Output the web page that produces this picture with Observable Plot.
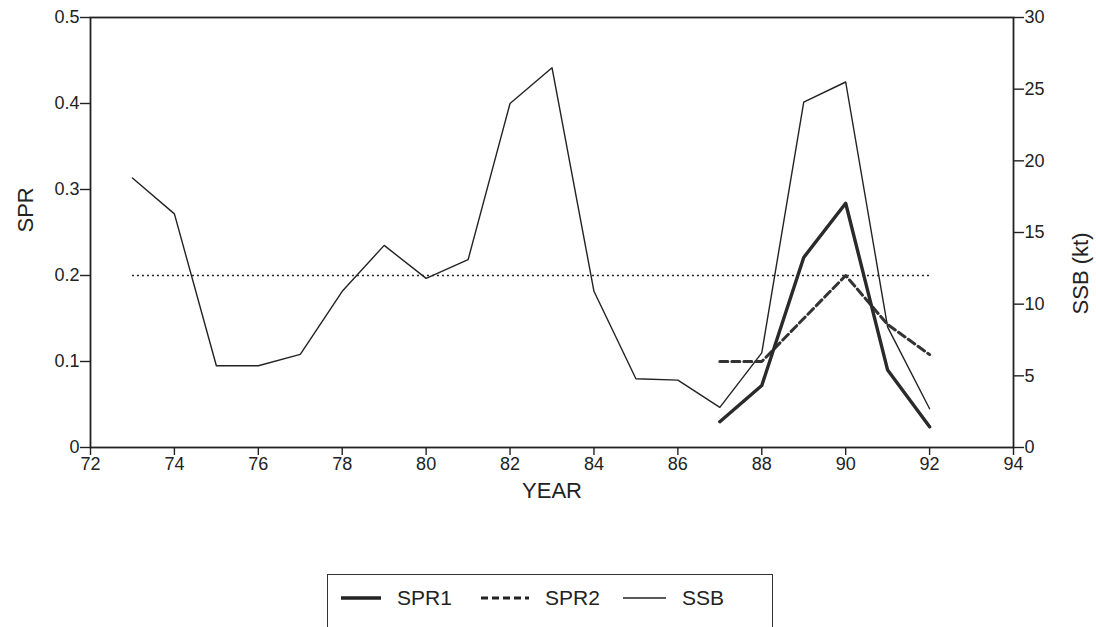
<!DOCTYPE html>
<html>
<head>
<meta charset="utf-8">
<script src="https://cdn.jsdelivr.net/npm/d3@7"></script>
<script src="https://cdn.jsdelivr.net/npm/@observablehq/plot@0.6"></script>
<style>
  html, body { margin: 0; padding: 0; background: #fff; }
  #wrap { position: relative; width: 1096px; height: 627px; overflow: hidden; }
  #legend {
    position: absolute; left: 327px; top: 574px; width: 446px; height: 60px;
    border: 1.5px solid #333; box-sizing: border-box; background: #fff;
    font-family: "Liberation Sans", Arial, sans-serif; font-size: 21px; color: #222;
  }
  #legend .item { position: absolute; top: 11px; display: flex; align-items: center; }
  #legend svg { display: block; }
</style>
</head>
<body>
<div id="wrap"><div id="chart"></div><div id="legend"></div></div>
<script>
// Spawning stock biomass (kt, right axis) and spawning-per-recruit (left axis)
const years = [73, 74, 75, 76, 77, 78, 79, 80, 81, 82, 83, 84, 85, 86, 87, 88, 89, 90, 91, 92];
const ssb   = [18.8, 16.3, 5.7, 5.7, 6.5, 10.9, 14.1, 11.8, 13.1, 24.0, 26.5, 10.9, 4.8, 4.7, 2.8, 6.6, 24.1, 25.5, 8.4, 2.7];

const sprYears = [87, 88, 89, 90, 91, 92];
const spr1 = [0.030, 0.072, 0.221, 0.284, 0.090, 0.024];
const spr2 = [0.100, 0.100, 0.150, 0.200, 0.143, 0.108];

// Reference level of SPR drawn across the whole series
const refSpr = 0.2;
const refYears = [73, 92];

const xTicks = d3.range(72, 95, 2);
const sprTicks = [0, 0.1, 0.2, 0.3, 0.4, 0.5];
const ssbTicks = [0, 5, 10, 15, 20, 25, 30];
const ssbMax = 30, sprMax = 0.5;
const toSpr = v => v * sprMax / ssbMax; // SSB plotted on the SPR scale

const ssbData = years.map((y, i) => ({year: y, v: toSpr(ssb[i])}));
const spr1Data = sprYears.map((y, i) => ({year: y, v: spr1[i]}));
const spr2Data = sprYears.map((y, i) => ({year: y, v: spr2[i]}));

const ink = "#222";

const plot = Plot.plot({
  width: 1096,
  height: 520,
  marginLeft: 90,
  marginRight: 83,
  marginTop: 17,
  marginBottom: 73,
  style: {fontFamily: "'Liberation Sans', Arial, sans-serif", fontSize: "18px", color: ink, background: "#fff"},
  x: {domain: [72, 94]},
  y: {domain: [0, sprMax]},
  marks: [
    Plot.frame({stroke: ink, strokeWidth: 1.8}),
    Plot.axisX({ticks: xTicks, tickSize: 8, tickPadding: 2, fontSize: 18, strokeWidth: 1.4, tickFormat: d => String(d), label: null}),
    Plot.axisY({anchor: "left", ticks: sprTicks, tickSize: 10, tickPadding: 1, fontSize: 18, strokeWidth: 1.4,
      tickFormat: d => d === 0 ? "0" : d.toFixed(1), label: null}),
    Plot.axisY({anchor: "right", ticks: ssbTicks.map(toSpr), tickSize: 10, tickPadding: 1, fontSize: 18, strokeWidth: 1.4,
      tickFormat: d => String(Math.round(d * ssbMax / sprMax)), label: null}),
    // axis titles
    Plot.text(["YEAR"], {frameAnchor: "bottom", dy: 50, fontSize: 22}),
    Plot.text(["SPR"], {frameAnchor: "left", dx: -65, rotate: -90, fontSize: 22}),
    Plot.text(["SSB (kt)"], {frameAnchor: "right", dx: 67, rotate: -90, fontSize: 22}),
    Plot.ruleY([refSpr], {x1: refYears[0], x2: refYears[1], stroke: ink, strokeWidth: 1.4, strokeDasharray: "2,3"}),
    Plot.line(ssbData, {x: "year", y: "v", stroke: ink, strokeWidth: 1.4}),
    Plot.line(spr2Data, {x: "year", y: "v", stroke: "#333", strokeWidth: 3, strokeDasharray: "8,4"}),
    Plot.line(spr1Data, {x: "year", y: "v", stroke: "#2a2a2a", strokeWidth: 3.4})
  ]
});
document.getElementById("chart").appendChild(plot);

// legend below the chart
const legendItems = [
  {label: "SPR1", left: 13, w: 40, sw: 3.4, dash: null},
  {label: "SPR2", left: 153, w: 48, sw: 3, dash: "7,4"},
  {label: "SSB", left: 295, w: 43, sw: 1.3, dash: null}
];
const legend = d3.select("#legend");
for (const it of legendItems) {
  const div = legend.append("div").attr("class", "item").style("left", it.left + "px");
  const s = div.append("svg").attr("width", it.w + 16).attr("height", 24);
  s.append("line").attr("x1", 0).attr("x2", it.w).attr("y1", 12).attr("y2", 12)
    .attr("stroke", ink).attr("stroke-width", it.sw).attr("stroke-dasharray", it.dash);
  div.append("span").text(it.label);
}
</script>
</body>
</html>
